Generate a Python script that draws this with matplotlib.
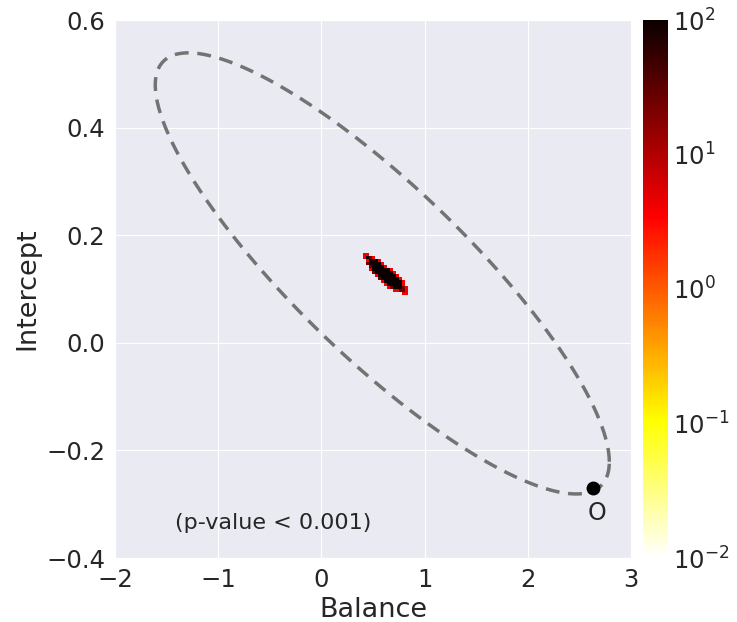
import numpy as np
import matplotlib
matplotlib.use("Agg")
import matplotlib.pyplot as plt
import seaborn as sns
from matplotlib.colors import LogNorm

sns.set_style("darkgrid")

# 2d histogram of the bootstrap estimates (cells)
# r ~ red, d ~ dark red, k ~ black
blob_x0, blob_dx = 0.403, 0.0291
blob_y0, blob_dy = 0.167, 0.00558
blob_rows = [
    "rr.............",
    "rkdr...........",
    ".rkkkr.........",
    ".dkkkkr........",
    "..dkkkkr.......",
    "..rkkkkkkr.....",
    "...dkkkkkkr....",
    "....rkkkkkkr...",
    ".....dkkkkkkr..",
    "......rkkkkkkr.",
    ".......rkkkkkr.",
    "........rdkkkdr",
    "..........rrddr",
    ".............rr",
]
levels = {".": np.nan, "r": 4.0, "d": 25.0, "k": 200.0}

# confidence ellipse
ell_center = (0.59, 0.129)
ell_sx, ell_sy, ell_rho = 2.2, 0.41, -0.854

# origin point
origin = (2.63, -0.27)

fig = plt.figure(figsize=(7.37, 6.22), dpi=100)
ax = fig.add_axes([115/737, 64/622, 516/737, 538/622])
cax = fig.add_axes([643/737, 64/622, 25/737, 538/622])

grid = np.array([[levels[c] for c in row] for row in blob_rows])
grid = np.ma.masked_invalid(grid)
nr, nc = grid.shape
xe = blob_x0 + blob_dx * np.arange(nc + 1)
ye = blob_y0 - blob_dy * np.arange(nr + 1)
mesh = ax.pcolormesh(xe, ye, grid, cmap="hot_r", norm=LogNorm(1e-2, 1e2))

cov = np.array([[ell_sx**2, ell_rho*ell_sx*ell_sy],
                [ell_rho*ell_sx*ell_sy, ell_sy**2]])
L = np.linalg.cholesky(cov)
t = np.linspace(0, 2*np.pi, 300)
pts = L @ np.vstack([np.cos(t), np.sin(t)])
ax.plot(ell_center[0] + pts[0], ell_center[1] + pts[1], "--",
        color="0.45", lw=2.5, dashes=(4, 2.5))

ax.plot(origin[0], origin[1], "o", color="black", ms=9)
ax.text(origin[0] + 0.04, origin[1] - 0.047, "O", fontsize=17,
        ha="center", va="center", color=".15")
ax.text(-0.47, -0.335, "(p-value < 0.001)", fontsize=16,
        ha="center", va="center", color=".15")

ax.set_xlim(-2, 3)
ax.set_ylim(-0.4, 0.6)
ax.set_xticks([-2, -1, 0, 1, 2, 3])
ax.set_yticks([-0.4, -0.2, 0.0, 0.2, 0.4, 0.6])
ax.tick_params(labelsize=17.5)
ax.set_xlabel("Balance", fontsize=19.5)
ax.set_ylabel("Intercept", fontsize=19.5)

cb = fig.colorbar(mesh, cax=cax)
cb.outline.set_visible(False)
cb.ax.minorticks_off()
cb.ax.tick_params(labelsize=17.5, length=0)

fig.savefig("out.png")
